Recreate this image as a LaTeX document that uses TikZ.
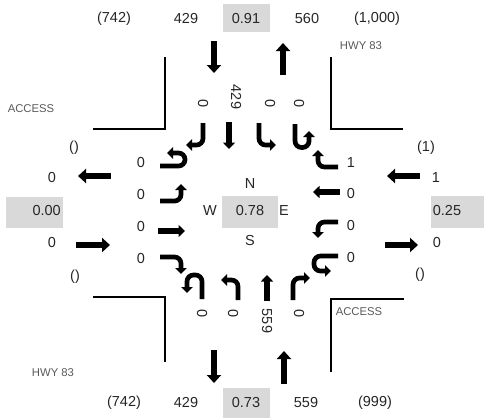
\documentclass[tikz,border=0pt]{standalone}
\usepackage{fontspec}
\setmainfont{Liberation Sans}
\usepackage{xcolor}
\usetikzlibrary{arrows.meta, positioning}
\definecolor{cellgrey}{rgb}{0.85, 0.85, 0.85}
\definecolor{smallgrey}{rgb}{0.35, 0.35, 0.35}
\tikzset{
	volume/.style={inner sep=0pt, font=\fontsize{14.5}{14.5}\selectfont, text=black!85},
	smalltext/.style={inner sep=0pt, font=\fontsize{11.3}{11.3}\selectfont, text=smallgrey},
	cell/.style={fill=cellgrey, draw=none},
	curb/.style={line width=1.3pt, black},
	bigarrow/.style={line width=6.3pt, -{Triangle[length=8pt, width=14pt]}},
	turnarrow/.style={line width=4.7pt, rounded corners=6.5pt, -{Triangle[length=6pt, width=11.5pt]}},
	straightarrow/.style={line width=5.6pt, -{Triangle[length=6.5pt, width=12pt]}}
}
\begin{document}
\begin{tikzpicture}[x=1pt, y=-1pt]
	\useasboundingbox (0,0) rectangle (484,418);
	% shaded cells
	\fill[cell] (223,4) rectangle (270,32);
	\fill[cell] (223,388) rectangle (270,418);
	\fill[cell] (6,197) rectangle (63,228);
	\fill[cell] (431,196) rectangle (484,228);
	\fill[cell] (222,196) rectangle (278,228);
	% curbs
	\draw[curb] (93,129) -- (165,129) -- (165,57);
	\draw[curb] (331,57) -- (331,129) -- (403,129);
	\draw[curb] (93,297) -- (165,297) -- (165,362);
	\draw[curb] (331,372) -- (331,299) -- (404,299);
	% top row
	\node[volume] (topflowleft) at (114,19) {(742)};
	\node[volume] (topvolleft) at (186,19) {429};
	\node[volume] (topratio) at (246,19) {0.91};
	\node[volume] (topvolright) at (307,19) {560};
	\node[volume] (topflowright) at (377,19) {(1,000)};
	% bottom row
	\node[volume] (botflowleft) at (124,403) {(742)};
	\node[volume] (botvolleft) at (186,403) {429};
	\node[volume] (botratio) at (246,403) {0.73};
	\node[volume] (botvolright) at (306,403) {559};
	\node[volume] (botflowright) at (375,403) {(999)};
	% left side
	\node[volume] (westflowtop) at (74,148) {()};
	\node[volume] (westvoltop) at (52,178) {0};
	\node[volume, anchor=east] (westratio) at (61,211) {0.00};
	\node[volume] (westvolbot) at (52,243) {0};
	\node[volume] (westflowbot) at (75,277) {()};
	% right side
	\node[volume] (eastflowtop) at (426,148) {(1)};
	\node[volume] (eastvoltop) at (436,178) {1};
	\node[volume] (eastratio) at (447,211) {0.25};
	\node[volume] (eastvolbot) at (437,243) {0};
	\node[volume] (eastflowbot) at (420,275) {()};
	% compass
	\node[volume] (north) at (250,184) {N};
	\node[volume] (west) at (210,211) {W};
	\node[volume] (ratio) at (250,211) {0.78};
	\node[volume] (east) at (284,211) {E};
	\node[volume] (south) at (250,241) {S};
	% road names
	\node[smalltext] (hwytop) at (361,46) {HWY 83};
	\node[smalltext] (hwybot) at (53,373) {HWY 83};
	\node[smalltext] (accessleft) at (31,109) {ACCESS};
	\node[smalltext] (accessright) at (359,312) {ACCESS};
	% turning volumes
	\node[volume, rotate=-90] (su) at (203,104) {0};
	\node[volume, rotate=-90] (sr) at (236,97) {429};
	\node[volume, rotate=-90] (st) at (270,104) {0};
	\node[volume, rotate=-90] (sl) at (299,104) {0};
	\node[volume] (eu) at (141,163) {0};
	\node[volume] (el) at (141,195) {0};
	\node[volume] (et) at (141,227) {0};
	\node[volume] (er) at (141,259) {0};
	\node[volume, rotate=-90] (nu) at (202,314) {0};
	\node[volume, rotate=-90] (nl) at (233,314) {0};
	\node[volume, rotate=-90] (nt) at (267,321) {559};
	\node[volume, rotate=-90] (nr) at (299,314) {0};
	\node[volume] (wr) at (351,163) {1};
	\node[volume] (wt) at (351,194) {0};
	\node[volume] (wl) at (351,226) {0};
	\node[volume] (wu) at (351,258) {0};
	% approach arrows
	\draw[bigarrow] (214,41) -- (214,73);
	\draw[bigarrow] (283,75) -- (283,43);
	\draw[bigarrow] (214,350) -- (214,383);
	\draw[bigarrow] (284,384) -- (284,351);
	\draw[bigarrow] (111,176) -- (78,176);
	\draw[bigarrow] (76,245) -- (110,245);
	\draw[bigarrow] (420,176) -- (387,176);
	\draw[bigarrow] (385,245) -- (418,245);
	% from the north
	\draw[turnarrow] (203,123) -- (203,145) -- (186,145);
	\draw[straightarrow] (229,122) -- (229,149);
	\draw[turnarrow] (259,123) -- (259,145) -- (276,145);
	\draw[turnarrow] (295,124) -- (295,147.5) -- (309,147.5) -- (309,131);
	% from the west
	\draw[turnarrow] (160,166) -- (185,166) -- (185,153) -- (167,153);
	\draw[turnarrow] (160,201) -- (181,201) -- (181,184);
	\draw[straightarrow] (158,231) -- (185,231);
	\draw[turnarrow] (160,257) -- (181,257) -- (181,274);
	% from the south
	\draw[turnarrow] (202,299) -- (202,275) -- (187,275) -- (187,293);
	\draw[turnarrow] (238,300) -- (238,280) -- (221,280);
	\draw[straightarrow] (267,301) -- (267,275);
	\draw[turnarrow] (293,300) -- (293,278) -- (310,278);
	% from the east
	\draw[turnarrow] (338,167) -- (318,167) -- (318,150);
	\draw[straightarrow] (340,192) -- (313,192);
	\draw[turnarrow] (338,222) -- (318,222) -- (318,238);
	\draw[turnarrow] (338,256) -- (314,256) -- (314,271) -- (331,271);
\end{tikzpicture}
\end{document}
